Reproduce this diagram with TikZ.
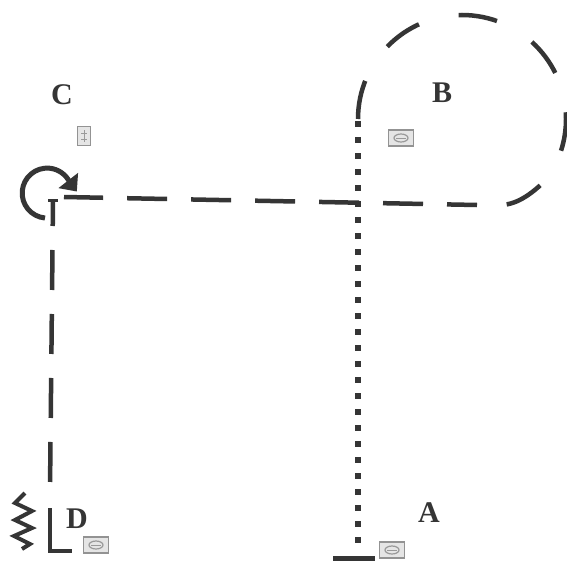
\documentclass[tikz,border=0pt]{standalone}
\usepackage{fontspec}
\setmainfont{Liberation Serif}
\usetikzlibrary{arrows.meta}
\definecolor{ink}{HTML}{353535}
\tikzset{
  lbl/.style={font=\fontsize{30}{30}\selectfont\bfseries, text=ink, inner sep=0pt},
  icon/.style={draw=gray!85, fill=gray!20, line width=1.4pt, inner sep=0pt},
  longdash/.style={draw=ink, line width=4.5pt, dash pattern=on 40pt off 24pt},
  loopdash/.style={draw=ink, line width=4.5pt, dash pattern=on 39pt off 41pt},
  dotline/.style={draw=ink, line width=6pt, dash pattern=on 6pt off 10pt},
  solidline/.style={draw=ink, line width=4.5pt},
}
\begin{document}
\begin{tikzpicture}[x=1pt,y=-1pt]
\useasboundingbox[fill=white] (0,0) rectangle (567,567);
% labels
\node[lbl] (C) at (62,95) {C};
\node[lbl] (B) at (442,93) {B};
\node[lbl] (A) at (429,513) {A};
\node[lbl] (D) at (77,519) {D};
% icons
\node[icon, minimum width=13pt, minimum height=19pt] (iC) at (84,136) {};
\node[icon, minimum width=25pt, minimum height=16pt] (iB) at (401,138) {};
\node[icon, minimum width=25pt, minimum height=16pt] (iA) at (392,550) {};
\node[icon, minimum width=25pt, minimum height=16pt] (iD) at (96,545) {};
\foreach \n in {iB,iA,iD}{
  \draw[gray!80, line width=1.2pt] (\n.center) ellipse[x radius=7, y radius=4];
  \draw[gray!80, line width=1pt] ([xshift=-5pt]\n.center) -- ([xshift=5pt]\n.center);
}
\draw[gray!80, line width=1pt] ([yshift=-6pt]iC.center) -- ([yshift=6pt]iC.center);
\draw[gray!80, line width=1pt] ([xshift=-3pt,yshift=-3pt]iC.center) -- ([xshift=3pt,yshift=-3pt]iC.center);
\draw[gray!80, line width=1pt] ([xshift=-3pt,yshift=3pt]iC.center) -- ([xshift=3pt,yshift=3pt]iC.center);
% coordinates
\coordinate (Atop) at (358,121);
\coordinate (Abase) at (358,553);
\coordinate (Tl) at (333,558);
\coordinate (Tr) at (375,558);
\coordinate (loopstart) at (358,119);
\coordinate (loopend) at (500,205);
\coordinate (Carrow) at (64,197);
\coordinate (Ctick) at (53,200);
\coordinate (Dtop) at (50,508);
\coordinate (Dcorner) at (50,551);
\coordinate (Dright) at (72,551);
% dotted line to A with bar
\draw[dotline] (Atop) -- (Abase);
\draw[solidline, line width=5pt] (Tl) -- (Tr);
% loop at B
\draw[loopdash] (loopstart) arc[start angle=180, end angle=395, radius=104]
  .. controls (530,196) and (515,205) .. (loopend);
% dashed line from loop to C
\draw[longdash, dash phase=10pt] (477,205) -- (Carrow);
% rotation arrow at C
\draw[solidline, line width=5pt, -{Triangle[length=14pt,width=24pt]}]
  (45,218) arc[start angle=95, end angle=335, radius=25] -- +(7,9);
\draw[solidline] (Ctick) -- (53,226);
\draw[solidline, line width=3pt] (48,200) -- (58,200);
% dashed line from C to D
\draw[longdash, dash phase=14pt] (Ctick) -- (50,490);
% D support
\draw[solidline] (Dtop) -- (Dcorner) -- (Dright);
\draw[solidline, line width=4pt, line join=miter]
  (25,493) -- (15,503) -- (32,511) -- (15,520) -- (32,528) -- (14,536) -- (30,544) -- (22,549);
\end{tikzpicture}
\end{document}
